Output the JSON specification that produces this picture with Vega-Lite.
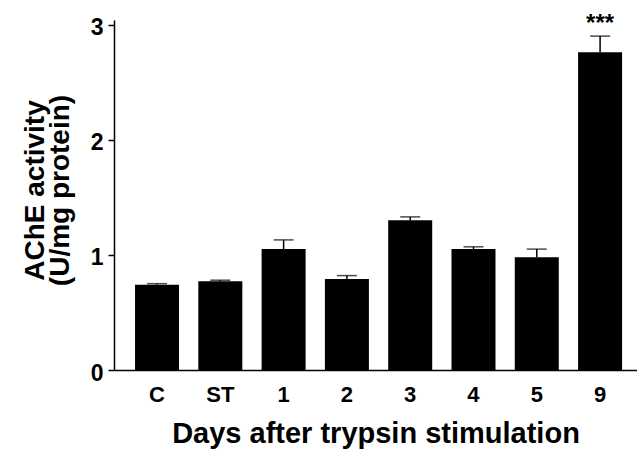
{
  "$schema": "https://vega.github.io/schema/vega-lite/v6.json",
  "width": 523,
  "height": 350,
  "autosize": {"type": "none"},
  "padding": {"left": 114, "top": 20, "right": 0, "bottom": 79},
  "background": "white",
  "config": {
    "view": {"stroke": null},
    "font": "Liberation Sans"
  },
  "data": {
    "values": [
      {"day": "C", "activity": 0.74, "upper": 0.75, "sig": ""},
      {"day": "ST", "activity": 0.77, "upper": 0.78, "sig": ""},
      {"day": "1", "activity": 1.05, "upper": 1.13, "sig": ""},
      {"day": "2", "activity": 0.79, "upper": 0.82, "sig": ""},
      {"day": "3", "activity": 1.30, "upper": 1.33, "sig": ""},
      {"day": "4", "activity": 1.05, "upper": 1.07, "sig": ""},
      {"day": "5", "activity": 0.98, "upper": 1.05, "sig": ""},
      {"day": "9", "activity": 2.76, "upper": 2.90, "sig": "***"}
    ]
  },
  "encoding": {
    "x": {
      "field": "day",
      "type": "nominal",
      "sort": null,
      "scale": {"paddingInner": 0.305, "paddingOuter": 0.284, "align": 0.585},
      "axis": {
        "title": "Days after trypsin stimulation",
        "titleFontSize": 29,
        "titleFontWeight": "bold",
        "titleColor": "black",
        "titleBaseline": "alphabetic",
        "titleY": 72,
        "labelAngle": 0,
        "labelFontSize": 22,
        "labelFontWeight": "bold",
        "labelColor": "black",
        "labelPadding": 14,
        "ticks": false,
        "domainColor": "black",
        "domainWidth": 1.5
      }
    }
  },
  "layer": [
    {
      "mark": {"type": "bar", "color": "black"},
      "encoding": {
        "y": {
          "field": "activity",
          "type": "quantitative",
          "scale": {"domain": [0, 3.04], "nice": false},
          "axis": {
            "title": ["AChE activity", "(U/mg protein)"],
            "titleFontSize": 28,
            "titleFontWeight": "bold",
            "titleColor": "black",
            "titleLineHeight": 25,
            "titleBaseline": "alphabetic",
            "titleX": -71,
            "titleY": 170,
            "values": [0, 1, 2, 3],
            "format": "d",
            "grid": false,
            "labelFontSize": 23,
            "labelFontWeight": "bold",
            "labelColor": "black",
            "labelPadding": 5,
            "labelOffset": 3,
            "tickSize": 6,
            "tickColor": "black",
            "tickWidth": 1.5,
            "domainColor": "black",
            "domainWidth": 1.5
          }
        }
      }
    },
    {
      "mark": {"type": "rule", "color": "black", "strokeWidth": 1.5},
      "encoding": {
        "y": {"field": "activity", "type": "quantitative"},
        "y2": {"field": "upper"}
      }
    },
    {
      "mark": {"type": "tick", "color": "black", "thickness": 1.5, "size": 20},
      "encoding": {
        "y": {"field": "upper", "type": "quantitative"}
      }
    },
    {
      "mark": {"type": "text", "fontSize": 24, "fontWeight": "bold", "color": "black", "baseline": "alphabetic", "dy": -5},
      "encoding": {
        "y": {"field": "upper", "type": "quantitative"},
        "text": {"field": "sig"}
      }
    }
  ]
}
